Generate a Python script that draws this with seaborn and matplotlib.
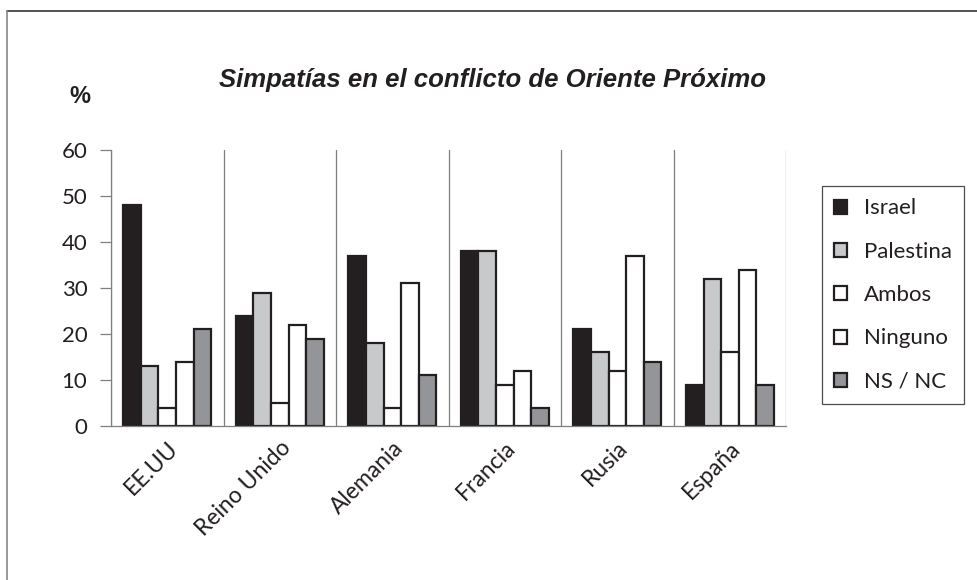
import numpy as np
import pandas as pd
import matplotlib
matplotlib.use("Agg")
import matplotlib.pyplot as plt
import seaborn as sns
from matplotlib.lines import Line2D

# Data
paises = ["EE.UU", "Reino Unido", "Alemania", "Francia", "Rusia", "España"]
series = ["Israel", "Palestina", "Ambos", "Ninguno", "NS / NC"]
israel = [48, 24, 37, 38, 21, 9]
palestina = [13, 29, 18, 38, 16, 32]
ambos = [4, 5, 4, 9, 12, 16]
ninguno = [14, 22, 31, 12, 37, 34]
ns_nc = [21, 19, 11, 4, 14, 9]
colores = ["#231f20", "#c8c9cb", "#ffffff", "#ffffff", "#939598"]

valores = [israel, palestina, ambos, ninguno, ns_nc]
df = pd.DataFrame([
    {"pais": p, "serie": s, "valor": v}
    for s, vals in zip(series, valores)
    for p, v in zip(paises, vals)
])

sns.set_style("white")
plt.rcParams["font.family"] = ["Lato", "DejaVu Sans"]

fig = plt.figure(figsize=(9.77, 5.8), dpi=100)
ax = fig.add_axes([0.1136, 0.2655, 0.691, 0.4759])

sns.barplot(data=df, x="pais", y="valor", hue="serie", order=paises,
            hue_order=series, palette=colores, width=0.78, gap=0,
            edgecolor="#231f20", linewidth=1.6, saturation=1, ax=ax)

ax.set_xlim(-0.5, len(paises) - 0.5)
ax.set_ylim(0, 60)
ax.set_yticks(np.arange(0, 61, 10))
ax.set_xlabel("")
ax.set_ylabel("")

# separators between categories
ax.set_xticks(np.arange(-0.5, len(paises), 1), minor=True)
ax.grid(False)
ax.grid(True, which="minor", axis="x", color="#7f7f7f", linewidth=0.9)
ax.tick_params(axis="x", which="minor", length=8, width=0.9, color="#7f7f7f", direction="out")
ax.tick_params(axis="x", which="major", length=0, pad=8)
ax.tick_params(axis="y", length=8, width=0.9, color="#7f7f7f", direction="out", pad=9,
               labelsize=16, labelcolor="#231f20", left=True)
plt.setp(ax.get_xticklabels(), rotation=45, ha="right", rotation_mode="anchor",
         fontsize=16.5, color="#231f20")

for s in ["top", "right"]:
    ax.spines[s].set_visible(False)
ax.spines["left"].set_color("#7f7f7f")
ax.spines["bottom"].set_color("#7f7f7f")
ax.spines["left"].set_linewidth(0.9)
ax.spines["bottom"].set_linewidth(0.9)

# legend
handles, labels = ax.get_legend_handles_labels()
if ax.legend_:
    ax.legend_.remove()
leg = fig.legend(handles, labels, loc="upper left", bbox_to_anchor=(0.841, 0.679),
                 bbox_transform=fig.transFigure, frameon=True, fancybox=False,
                 handlelength=0.6, handleheight=0.6, handletextpad=0.75,
                 labelspacing=1.05, borderpad=0.55, fontsize=16, borderaxespad=0)
leg.get_frame().set_edgecolor("#231f20")
leg.get_frame().set_linewidth(0.9)
for t in leg.get_texts():
    t.set_color("#231f20")

# titles
fig.text(0.504, 0.862, "Simpatías en el conflicto de Oriente Próximo",
         ha="center", va="center", fontsize=18.5, fontweight="bold", fontstyle="italic",
         family=["Liberation Sans", "DejaVu Sans"], color="#231f20")
fig.text(0.082, 0.833, "%", ha="center", va="center", fontsize=17, fontweight="bold",
         family=["Liberation Sans", "DejaVu Sans"], color="#231f20")

# outer frame (top and left edges visible)
fig.add_artist(Line2D([7 / 977, 1], [1 - 11 / 580, 1 - 11 / 580], color="#333333",
                      linewidth=1.2, transform=fig.transFigure))
fig.add_artist(Line2D([7 / 977, 7 / 977], [0, 1 - 11 / 580], color="#888888",
                      linewidth=1.2, transform=fig.transFigure))

fig.savefig("out.png", dpi=100)
